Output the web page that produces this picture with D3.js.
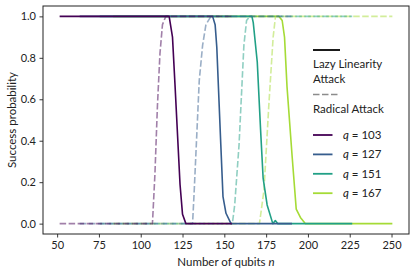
<!DOCTYPE html>
<html>
<head>
<meta charset="utf-8">
<script src="https://cdn.jsdelivr.net/npm/d3@7"></script>
<style>
  body { margin: 0; background: #fff; }
</style>
</head>
<body>
<svg id="chart" width="416" height="277" font-family="Lato, sans-serif"></svg>
<script>
// q values and their curves as [n, probability]
const qValues = [103, 127, 151, 167]
const seriesColors = ["#440154", "#365d8d", "#21a086", "#a5db36"]

const lazy103 = [[51.5,1],[117,1],[119,0.9],[120.5,0.67],[123.5,0.19],[125,0.045],[127,0],[154.5,0]]
const lazy127 = [[63.5,1],[143,1],[144.5,0.96],[145.5,0.85],[147.9,0.38],[149.2,0.13],[151,0.05],[154,0],[190.5,0]]
const lazy151 = [[75.5,1],[166.5,1],[167.3,0.97],[169.7,0.78],[171.7,0.45],[173.2,0.22],[175.6,0.09],[179,0],[180.5,0.015],[182,0],[226.5,0]]
const lazy167 = [[83.5,1],[182.6,1],[184.6,0.98],[186,0.9],[187.5,0.66],[190.5,0.33],[193,0.07],[195.5,0.03],[198.5,0],[250.5,0]]

const radical103 = [[51.5,0],[107,0],[108.5,0.24],[110,0.57],[111.5,0.82],[113,0.96],[115,1],[154.5,1]]
const radical127 = [[63.5,0],[131,0],[132,0.16],[135,0.69],[137,0.86],[139,0.96],[142,1],[190.5,1]]
const radical151 = [[75.5,0],[154.8,0],[156.2,0.09],[158.8,0.38],[161.7,0.86],[163.3,0.98],[165.3,1],[226.5,1]]
const radical167 = [[83.5,0],[171,0],[173.7,0.16],[176.6,0.57],[179.2,0.9],[180.6,1],[250.5,1]]

const lazySeries = [lazy103, lazy127, lazy151, lazy167]
const radicalSeries = [radical103, radical127, radical151, radical167]

const xTicks = [50, 75, 100, 125, 150, 175, 200, 225, 250]
const yTicks = [0, 0.2, 0.4, 0.6, 0.8, 1.0]

const svg = d3.select("#chart")
const margin = { top: 6, right: 7, bottom: 43, left: 43 }
const width = +svg.attr("width")
const height = +svg.attr("height")
const innerWidth = width - margin.left - margin.right
const innerHeight = height - margin.top - margin.bottom

// matplotlib style 5% padding on both axes
const xScale = d3.scaleLinear().domain([41.55, 260.45]).range([0, innerWidth])
const yScale = d3.scaleLinear().domain([-0.05, 1.05]).range([innerHeight, 0])

const g = svg.append("g")
    .attr("transform", `translate(${margin.left},${margin.top})`)

const lineGen = d3.line()
    .x(d => xScale(d[0]))
    .y(d => yScale(d[1]))

const dash = "6.5,2.5"

// biggest q drawn first so the smaller q ends up on top
d3.range(qValues.length).reverse().forEach(i => {
    g.append("path")
        .attr("d", lineGen(lazySeries[i]))
        .attr("fill", "none")
        .attr("stroke", seriesColors[i])
        .attr("stroke-width", 1.6)
        .attr("stroke-linejoin", "round")
    g.append("path")
        .attr("d", lineGen(radicalSeries[i]))
        .attr("fill", "none")
        .attr("stroke", seriesColors[i])
        .attr("stroke-opacity", 0.5)
        .attr("stroke-width", 1.6)
        .attr("stroke-dasharray", dash)
        .attr("stroke-linejoin", "round")
})

// axes
const xAxis = d3.axisBottom(xScale).tickValues(xTicks).tickSize(3.5).tickPadding(3.5)
const yAxis = d3.axisLeft(yScale).tickValues(yTicks).tickSize(3.5).tickPadding(3.5).tickFormat(d3.format(".1f"))

const xAxisG = g.append("g").attr("transform", `translate(0,${innerHeight})`).call(xAxis)
const yAxisG = g.append("g").call(yAxis)
xAxisG.select(".domain").remove()
yAxisG.select(".domain").remove()
xAxisG.attr("font-family", null).attr("font-size", 11)
yAxisG.attr("font-family", null).attr("font-size", 11)
svg.selectAll(".tick text").attr("fill", "#222")
svg.selectAll(".tick line").attr("stroke", "#222").attr("stroke-width", 0.9)

// frame
g.append("rect")
    .attr("width", innerWidth)
    .attr("height", innerHeight)
    .attr("fill", "none")
    .attr("stroke", "#222")
    .attr("stroke-width", 1)

// axis labels
const xLabel = svg.append("text")
    .attr("x", margin.left + innerWidth / 2)
    .attr("y", 266)
    .attr("text-anchor", "middle")
    .attr("font-size", 11.5)
    .attr("fill", "#222")
xLabel.append("tspan").text("Number of qubits ")
xLabel.append("tspan").attr("font-style", "italic").text("n")

svg.append("text")
    .attr("transform", `translate(16,${margin.top + innerHeight / 2}) rotate(-90)`)
    .attr("text-anchor", "middle")
    .attr("font-size", 11.5)
    .attr("fill", "#222")
    .text("Success probability")

// legend
const legend = svg.append("g").attr("transform", "translate(313,0)").attr("fill", "#222")
legend.append("line")
    .attr("x1", 0).attr("x2", 27).attr("y1", 50).attr("y2", 50)
    .attr("stroke", "#000").attr("stroke-width", 1.8)
legend.append("text").attr("x", 0).attr("y", 67.5).attr("font-size", 11.5).text("Lazy Linearity")
legend.append("text").attr("x", 0).attr("y", 82.5).attr("font-size", 11.5).text("Attack")
legend.append("line")
    .attr("x1", 0).attr("x2", 27).attr("y1", 94.5).attr("y2", 94.5)
    .attr("stroke", "#000").attr("stroke-opacity", 0.45).attr("stroke-width", 1.6)
    .attr("stroke-dasharray", dash)
legend.append("text").attr("x", 0).attr("y", 112.5).attr("font-size", 11.5).text("Radical Attack")

qValues.forEach((q, i) => {
    const y = 135 + i * 19.4
    legend.append("line")
        .attr("x1", 0).attr("x2", 19.5).attr("y1", y).attr("y2", y)
        .attr("stroke", seriesColors[i]).attr("stroke-width", 1.8)
    const t = legend.append("text").attr("x", 30).attr("y", y + 4).attr("font-size", 11.5)
    t.append("tspan").attr("font-style", "italic").text("q")
    t.append("tspan").text(" = " + q)
})
</script>
</body>
</html>
